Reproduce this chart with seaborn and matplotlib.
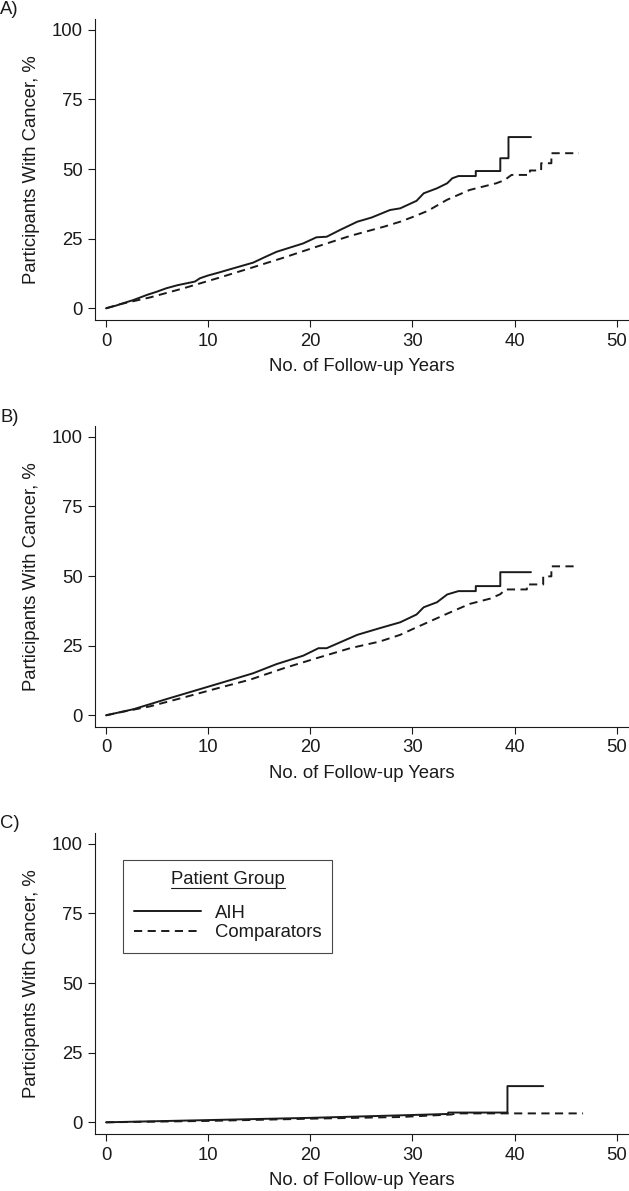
import pandas as pd
import matplotlib.pyplot as plt
import seaborn as sns
from matplotlib.lines import Line2D

# cumulative cancer incidence (years, %)
a_aih_t = [0, 1, 2, 2.7, 4, 5, 5.9, 7, 8.7, 9.2, 10, 11, 12.5, 14.4, 15.5, 16.7, 18, 19.3, 20.6, 21.6, 23, 24.6, 26,
           27.8, 28.8, 30.4, 31.1, 32.4, 33.4, 33.9, 34.5, 36.2, 36.2, 38.6, 38.6, 39.4, 39.4, 41.6]
a_aih_v = [0, 1.0, 2.2, 3.0, 4.8, 6.0, 7.2, 8.3, 9.6, 10.8, 11.8, 12.8, 14.4, 16.4, 18.3, 20.3, 21.8, 23.3, 25.5, 25.7,
           28.3, 31.1, 32.6, 35.3, 35.9, 38.6, 41.3, 43.1, 44.9, 46.7, 47.5, 47.5, 49.3, 49.3, 53.9, 53.9, 61.5, 61.5]
a_cmp_t = [0, 1.4, 4.3, 7.6, 10.9, 14.1, 17.4, 20.6, 23.9, 27.2, 28.8, 30.1, 31.5, 33.4, 35.6, 38.2, 39.0, 39.7,
           41.5, 41.5, 42.6, 42.6, 43.6, 43.6, 46.3]
a_cmp_v = [0, 1.5, 3.9, 7.2, 10.8, 14.4, 18.2, 22.1, 26.0, 29.3, 31.1, 32.9, 35.0, 39.0, 42.5, 44.9, 46.0, 47.9,
           47.9, 49.5, 49.5, 52.1, 52.1, 55.7, 55.7]

b_aih_t = [0, 2.7, 5.9, 9.2, 12.5, 14.4, 16.7, 19.3, 20.8, 21.6, 24.6, 26.8, 28.8, 30.4, 31.1, 32.4, 33.4, 34.5,
           36.2, 36.2, 38.6, 38.6, 41.6]
b_aih_v = [0, 2.2, 5.8, 9.4, 13.0, 15.1, 18.4, 21.4, 24.1, 24.1, 28.9, 31.3, 33.4, 36.2, 38.8, 40.6, 43.4, 44.6,
           44.6, 46.4, 46.4, 51.4, 51.4]
b_cmp_t = [0, 1.4, 4.3, 7.6, 10.9, 14.1, 17.4, 20.6, 23.9, 26.8, 28.8, 30.1, 33.4, 35.6, 37.6, 38.6, 39.1,
           41.2, 41.2, 42.8, 42.8, 43.6, 43.6, 46.1]
b_cmp_v = [0, 1.1, 3.2, 6.4, 9.7, 12.8, 16.9, 20.5, 24.1, 26.5, 28.9, 31.1, 36.5, 40.0, 41.9, 43.5, 45.2,
           45.2, 47.0, 47.0, 49.9, 49.9, 53.5, 53.5]

c_aih_t = [0, 10, 20, 28.8, 33.5, 33.5, 39.3, 39.3, 42.8]
c_aih_v = [0, 0.8, 1.6, 2.5, 3.0, 3.5, 3.5, 13.0, 13.0]
c_cmp_t = [0, 10, 20, 28.8, 33.8, 34.3, 46.7]
c_cmp_v = [0, 0.5, 1.3, 1.9, 2.8, 3.2, 3.2]

groups = ['AIH', 'Comparators']
panel_labels = ['A)', 'B)', 'C)']
x_ticks = [0, 10, 20, 30, 40, 50]
y_ticks = [0, 25, 50, 75, 100]

panels = [(a_aih_t, a_aih_v, a_cmp_t, a_cmp_v),
          (b_aih_t, b_aih_v, b_cmp_t, b_cmp_v),
          (c_aih_t, c_aih_v, c_cmp_t, c_cmp_v)]

sns.set_theme(style='white')
ink = '#1a1a1a'
plt.rcParams['font.family'] = ['Liberation Sans', 'DejaVu Sans']
plt.rcParams.update({'text.color': ink, 'axes.labelcolor': ink, 'xtick.color': ink, 'ytick.color': ink,
                     'axes.edgecolor': ink, 'axes.linewidth': 0.8})

fs = 13.3
W, H = 629, 1191
fig = plt.figure(figsize=(W / 100, H / 100), dpi=100)

left, right = 95, 629
tops = [19, 426, 833]
ax_h = 301

for i, (t1, v1, t2, v2) in enumerate(panels):
    top = tops[i]
    ax = fig.add_axes([left / W, 1 - (top + ax_h) / H, (right - left) / W, ax_h / H])
    df = pd.concat([pd.DataFrame({'years': t1, 'pct': v1, 'group': groups[0]}),
                    pd.DataFrame({'years': t2, 'pct': v2, 'group': groups[1]})])
    sns.lineplot(data=df, x='years', y='pct', style='group', estimator=None, color=ink,
                 dashes={'AIH': '', 'Comparators': (4.2, 2.8)}, linewidth=1.4, legend=False, ax=ax)
    ax.set_xlim(-1.08, 51.2)
    ax.set_ylim(-4.2, 103.9)
    ax.set_xticks(x_ticks)
    ax.set_yticks(y_ticks)
    ax.tick_params(axis='both', direction='out', length=5, width=0.8, labelsize=fs, pad=4,
                   bottom=True, left=True)
    ax.set_xlabel('No. of Follow-up Years', fontsize=fs, labelpad=6)
    ax.set_ylabel('Participants With Cancer, %', fontsize=fs, labelpad=8)
    sns.despine(ax=ax)
    fig.text(0, 1 - (top - 9) / H, panel_labels[i], fontsize=fs, va='center', ha='left')

    if i == 2:
        leg = ax.legend(handles=ax.lines[:2], labels=groups, title='Patient Group\n',
                        loc='upper left', bbox_to_anchor=(0.053, 0.910), borderaxespad=0,
                        fontsize=fs, title_fontsize=fs, frameon=True, fancybox=False,
                        edgecolor=ink, handlelength=3.6, handletextpad=0.75,
                        labelspacing=0.15, borderpad=0.6)
        leg.get_frame().set_linewidth(0.8)
        leg.get_title().set_linespacing(0.75)
        fig.canvas.draw()
        bb = leg.get_title().get_window_extent()
        # underline sits under the first line of the title
        y_line = (bb.y1 - fs * 1.25) / H
        x0 = bb.x0 / W
        x1 = bb.x1 / W
        fig.add_artist(Line2D([x0, x1], [y_line, y_line], color=ink,
                              linewidth=0.8, transform=fig.transFigure))

fig.savefig('out.png', dpi=100, facecolor='white')
